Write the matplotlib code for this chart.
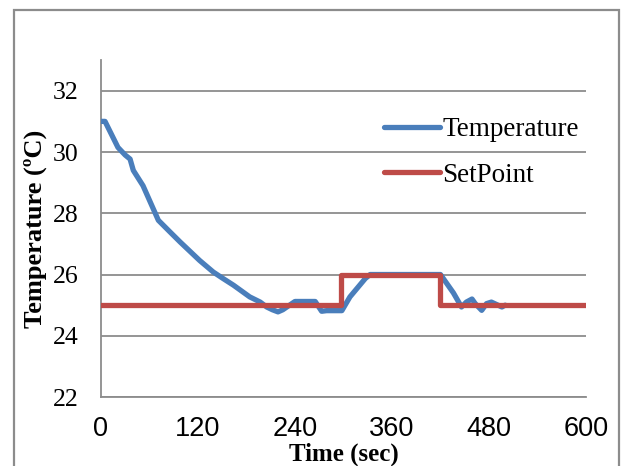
import matplotlib
matplotlib.use("Agg")
import matplotlib.pyplot as plt
from matplotlib.patches import Rectangle

# temperature trace (sec, degC)
time_s = [0, 5, 21, 30, 36, 40, 52, 71, 85, 98, 122, 139, 151, 164, 184, 197,
          205, 212, 219, 225, 230, 240, 265, 273, 279, 298, 308, 327, 333, 420,
          436, 446, 452, 459, 463, 471, 477, 483, 496, 500]
temperature = [31.0, 31.0, 30.15, 29.9, 29.77, 29.4, 28.9, 27.77, 27.4, 27.06,
               26.46, 26.08, 25.87, 25.65, 25.27, 25.1, 24.94, 24.85, 24.78,
               24.85, 24.94, 25.12, 25.12, 24.8, 24.82, 24.82, 25.27, 25.87,
               26.0, 26.0, 25.4, 24.94, 25.1, 25.2, 25.05, 24.83, 25.05, 25.1,
               24.94, 25.0]

# setpoint steps
sp_time = [0, 297, 297, 420, 420, 600]
setpoint = [25, 25, 26, 26, 25, 25]

xticks = [0, 120, 240, 360, 480, 600]
yticks = [22, 24, 26, 28, 30, 32]

fig = plt.figure(figsize=(6.21, 4.66), dpi=100)
ax = fig.add_axes([0.1626, 0.148, 0.781, 0.723])

# outer chart border
fig.patches.append(Rectangle((0.022, -0.01), 0.975, 0.988, transform=fig.transFigure,
                             fill=False, edgecolor='#8c8c8c', linewidth=1.6))

ax.plot(time_s, temperature, color='#4A7EBB', lw=3.8, label='Temperature',
        solid_capstyle='round', solid_joinstyle='round', zorder=3)
ax.plot(sp_time, setpoint, color='#BE4B48', lw=3.8, label='SetPoint',
        solid_capstyle='round', zorder=4)

ax.set_xlim(0, 600)
ax.set_ylim(22, 33)
ax.set_xticks(xticks)
ax.set_yticks(yticks)
ax.yaxis.grid(True, color='#8c8c8c', lw=1.3)
ax.set_axisbelow(True)
for s in ['top', 'right']:
    ax.spines[s].set_visible(False)
for s in ['left', 'bottom']:
    ax.spines[s].set_color('#8c8c8c')
    ax.spines[s].set_linewidth(1.3)
ax.tick_params(axis='x', length=0, pad=14, labelsize=19.5,
               labelfontfamily='Liberation Sans')
ax.tick_params(axis='y', length=0, pad=16, labelsize=18.5,
               labelfontfamily='Liberation Serif')

ax.set_xlabel('Time (sec)', fontfamily='Liberation Serif', fontweight='bold',
              fontsize=18)
ax.set_ylabel('Temperature (ºC)', fontfamily='Liberation Serif', fontweight='bold',
              fontsize=19)
ax.xaxis.set_label_coords(0.5, -0.136)
ax.yaxis.set_label_coords(-0.111, 0.5)

leg = ax.legend(loc='upper left', bbox_to_anchor=(0.583, 0.831), frameon=False,
                prop={'family': 'Liberation Serif', 'size': 19.5},
                handlelength=2.07, handletextpad=0.1, borderpad=0,
                borderaxespad=0, labelspacing=0.77)

fig.savefig('out.png', dpi=100)
